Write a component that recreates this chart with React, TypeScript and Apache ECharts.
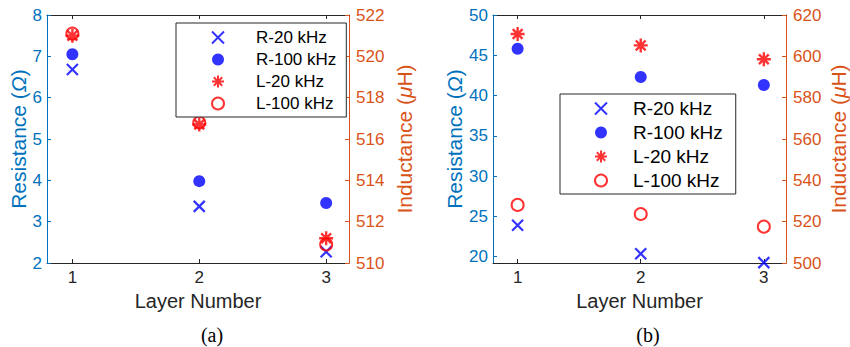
import React, { useEffect, useRef } from "react";
import * as echarts from "echarts";

// ---- data ----
const layers = [1, 2, 3];
const seriesNames = ["R-20 kHz", "R-100 kHz", "L-20 kHz", "L-100 kHz"];

// (a)
const aR20 = [6.68, 3.37, 2.27];
const aR100 = [7.05, 3.98, 3.45];
const aL20 = [521.0, 516.7, 511.2];
const aL100 = [521.1, 516.8, 510.9];

// (b)
const bR20 = [23.9, 20.35, 19.25];
const bR100 = [45.8, 42.3, 41.3];
const bL20 = [610.8, 605.3, 598.6];
const bL100 = [528.1, 523.7, 517.6];

const xTicks = [1, 2, 3];
const bLeftTicks = [20, 25, 30, 35, 40, 45, 50];
const subLabels = ["(a)", "(b)"];

const BLUE_AX = "#0072BD";
const ORANGE_AX = "#D95319";
const DARK = "#262626";
const FONT = "'Liberation Sans', Arial, Helvetica, sans-serif";

const X_SYM = "path://M0,0L10,10M10,0L0,10";
const STAR_SYM = "path://M5,0L5,10M0,5L10,5M1.5,1.5L8.5,8.5M8.5,1.5L1.5,8.5";

function pts(vals: number[]) {
  return layers.map((l, i) => [l, vals[i]]);
}

function makeSeries(xi: number, yl: number, yr: number, r20: number[], r100: number[], l20: number[], l100: number[]) {
  return [
    {
      name: seriesNames[0], type: "scatter", xAxisIndex: xi, yAxisIndex: yl, data: pts(r20),
      symbol: X_SYM, symbolSize: 11, symbolKeepAspect: true,
      itemStyle: { color: "#0000FF", borderColor: "#0000FF", borderWidth: 2.2 },
    },
    {
      name: seriesNames[1], type: "scatter", xAxisIndex: xi, yAxisIndex: yl, data: pts(r100),
      symbol: "circle", symbolSize: 12,
      itemStyle: { color: "#0000FF" },
    },
    {
      name: seriesNames[2], type: "scatter", xAxisIndex: xi, yAxisIndex: yr, data: pts(l20),
      symbol: STAR_SYM, symbolSize: 14, symbolKeepAspect: true,
      itemStyle: { color: "#FF0000", borderColor: "#FF0000", borderWidth: 2.4 },
    },
    {
      name: seriesNames[3], type: "scatter", xAxisIndex: xi, yAxisIndex: yr, data: pts(l100),
      symbol: "circle", symbolSize: 12,
      itemStyle: { color: "rgba(255,255,255,0)", borderColor: "#FF0000", borderWidth: 2 },
    },
  ];
}

function xAxes(gridIndex: number) {
  const common = {
    type: "value", gridIndex, min: 0.8, max: 3.18,
    splitLine: { show: false },
    axisLine: { show: true, lineStyle: { color: DARK, width: 1 } },
    axisTick: { show: true, inside: true, length: 4, customValues: xTicks, lineStyle: { color: DARK } },
  };
  return [
    {
      ...common, position: "bottom",
      axisLabel: { customValues: xTicks, color: DARK, fontSize: 17, fontFamily: FONT, margin: 6 },
      name: "Layer Number", nameLocation: "middle", nameGap: 24,
      nameTextStyle: { color: DARK, fontSize: 20, fontFamily: FONT },
    },
    { ...common, position: "top", axisLabel: { show: false } },
  ];
}

function yAxis(gridIndex: number, pos: string, color: string, min: number, max: number, interval: number | null, custom: number[] | null, name: string, nameGap: number, margin: number) {
  const ax: any = {
    type: "value", gridIndex, position: pos, min, max,
    splitLine: { show: false },
    axisLine: { show: true, lineStyle: { color, width: 1 } },
    axisTick: { show: true, inside: true, length: 4, lineStyle: { color } },
    axisLabel: { color, fontSize: 17, fontFamily: FONT, margin },
    name, nameLocation: "middle", nameGap,
    nameTextStyle: {
      color, fontSize: 21, fontFamily: FONT,
      rich: { i: { color, fontSize: 21, fontFamily: FONT, fontStyle: "italic" } },
    },
  };
  if (interval != null) ax.interval = interval;
  if (custom) {
    ax.axisTick.customValues = custom;
    ax.axisLabel.customValues = custom;
  }
  return ax;
}

function legend(left: number, top: number, itemWidth: number, fontSize: number, lineHeight: number, padding: number[]) {
  return {
    orient: "vertical", left, top, itemWidth, itemHeight: 12, itemGap: 5,
    padding, borderColor: DARK, borderWidth: 1, backgroundColor: "#FFFFFF",
    textStyle: { color: "#000", fontSize, fontFamily: FONT, lineHeight },
    data: seriesNames,
  };
}

export default function App() {
  const ref = useRef<HTMLDivElement>(null);
  useEffect(() => {
    document.body.style.margin = "0";
    if (!ref.current) return;
    const chart = echarts.init(ref.current, null, { renderer: "svg" });
    chart.setOption({
      animation: false,
      backgroundColor: "#FFFFFF",
      grid: [
        { left: 47, top: 15, width: 302, height: 248 },
        { left: 493, top: 15, width: 297, height: 248 },
      ],
      xAxis: [...xAxes(0), ...xAxes(1)],
      yAxis: [
        yAxis(0, "left", BLUE_AX, 2, 8, 1, null, "Resistance ({i|Ω})", 15, 5),
        yAxis(0, "right", ORANGE_AX, 510, 522, 2, null, "Inductance ({i|μ}H)", 45, 7),
        yAxis(1, "left", BLUE_AX, 19.2, 50, null, bLeftTicks, "Resistance ({i|Ω})", 25, 5),
        yAxis(1, "right", ORANGE_AX, 500, 620, 20, null, "Inductance ({i|μ}H)", 42, 7),
      ],
      legend: [
        legend(176, 23, 66, 17, 16, [6, 10, 5, 35]),
        legend(560, 94, 54, 19, 19, [5, 13, 4, 34]),
      ],
      series: [
        ...makeSeries(0, 0, 1, aR20, aR100, aL20, aL100),
        ...makeSeries(2, 2, 3, bR20, bR100, bL20, bL100),
      ],
      graphic: [
        {
          type: "text", x: 212, y: 335,
          style: { text: subLabels[0], font: "20px 'Liberation Serif', 'Times New Roman', serif", fill: "#000", textAlign: "center", textVerticalAlign: "middle" },
        },
        {
          type: "text", x: 648, y: 335,
          style: { text: subLabels[1], font: "20px 'Liberation Serif', 'Times New Roman', serif", fill: "#000", textAlign: "center", textVerticalAlign: "middle" },
        },
      ],
    });
    return () => chart.dispose();
  }, []);
  return <div ref={ref} style={{ width: 850, height: 347 }} />;
}
